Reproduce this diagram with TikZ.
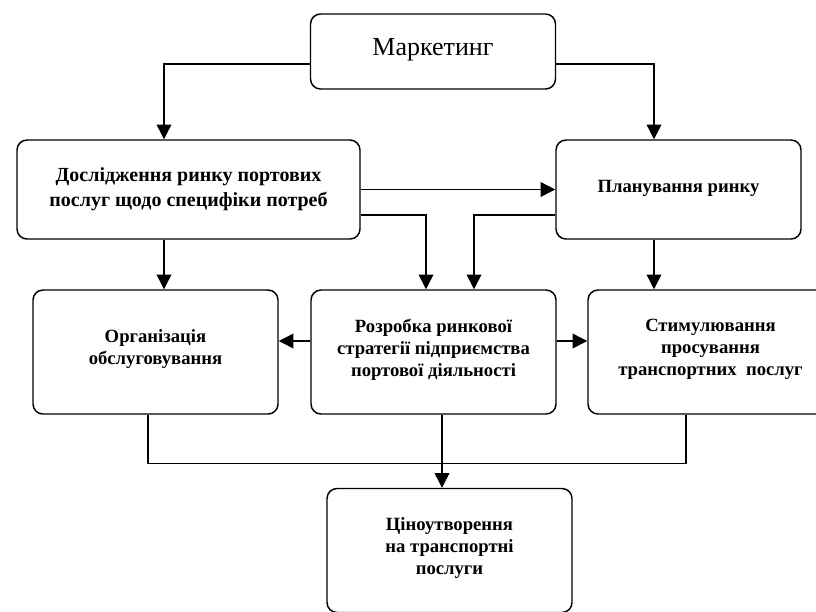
\documentclass[tikz,border=0pt]{standalone}
\usepackage{fontspec}
\setmainfont{Liberation Serif}
\usetikzlibrary{arrows.meta,calc}

\tikzset{
  blok/.style={draw, line width=1.1pt, rounded corners=7.5pt, align=center,
    minimum width=183.75pt, minimum height=93pt, inner sep=0pt,
    font=\bfseries\fontsize{14}{16.5}\selectfont, text depth=7pt},
  strilka/.style={line width=1pt, -{Triangle[length=11pt,width=11pt]}},
  liniya/.style={line width=1pt}
}

\begin{document}
\begin{tikzpicture}[x=0.75pt,y=0.75pt,yscale=-1,xscale=1]
        \useasboundingbox (0,0) rectangle (816,611);

        %Rounded Rect [marketynh]
        \node [blok, minimum height=56.25pt, font=\fontsize{19.5}{22}\selectfont] (mark) at (433,51.5) {Маркетинг};
        %Rounded Rect [doslidzhennia]
        \node [blok, minimum width=257.25pt, minimum height=74.25pt, text depth=3pt,
          font=\bfseries\fontsize{15}{18.75}\selectfont] (dosl) at (188.5,189.5) {Дослідження ринку портових\\послуг щодо специфіки потреб};
        %Rounded Rect [planuvannia]
        \node [blok, minimum height=74.25pt, text depth=4pt] (plan) at (678.5,189.5) {Планування ринку};
        %Rounded Rect [orhanizatsiia]
        \node [blok] (org) at (155.5,352) {Організація\\обслуговування};
        %Rounded Rect [rozrobka]
        \node [blok] (rozr) at (433.5,352) {Розробка ринкової\\стратегії підприємства\\портової діяльності};
        %Rounded Rect [stymuliuvannia]
        \node [blok] (stym) at (710.5,352) {Стимулювання\\просування\\транспортних\ \ послуг};
        %Rounded Rect [tsinoutvorennia]
        \node [blok] (tsin) at (449.5,550.5) {Ціноутворення\\на транспортні\\послуги};

        %Straight Lines
        \coordinate (m1) at ($(dosl.north)+(-24.5,0)$);
        \coordinate (m2) at ($(plan.north)+(-24.5,0)$);
        \draw [strilka] ($(mark.west)+(0,12.5)$) -| (m1);
        \draw [strilka] ($(mark.east)+(0,12.5)$) -| (m2);
        \draw [strilka] (dosl.east) -- (plan.west);
        %Straight Lines
        \draw [strilka] ($(dosl.east)+(0,25.5)$) -| ($(rozr.north)+(-7.5,0)$);
        \draw [strilka] ($(plan.west)+(0,25.5)$) -| ($(rozr.north)+(40.5,0)$);
        \coordinate (d1) at ($(dosl.south)+(-24.5,0)$);
        \coordinate (p1) at ($(plan.south)+(-24.5,0)$);
        \draw [strilka] (d1) -- (d1 |- org.north);
        \draw [strilka] (p1) -- (p1 |- stym.north);
        %Straight Lines
        \draw [strilka] ($(rozr.west)+(0,-11)$) -- ($(org.east)+(0,-11)$);
        \draw [strilka] ($(rozr.east)+(0,-11)$) -- ($(stym.west)+(0,-11)$);
        %Straight Lines
        \coordinate (o1) at ($(org.south)+(-7.5,0)$);
        \coordinate (s1) at ($(stym.south)+(-24.5,0)$);
        \coordinate (r1) at ($(rozr.south)+(8.5,0)$);
        \draw [liniya] (o1) -- ++(0,49) -| (s1);
        \draw [strilka] (r1) -- (r1 |- tsin.north);

\end{tikzpicture}
\end{document}
